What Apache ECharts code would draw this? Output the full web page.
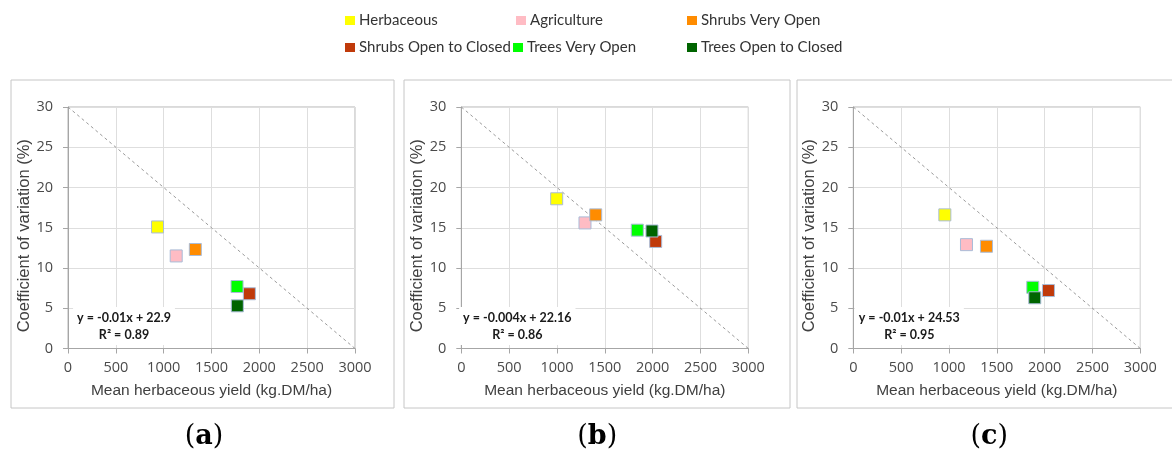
<!DOCTYPE html>
<html>
<head>
<meta charset="utf-8">
<script src="https://cdn.jsdelivr.net/npm/echarts@6/dist/echarts.min.js"></script>
<style>html,body{margin:0;padding:0;background:#fff;}#c{width:1172px;height:453px;}</style>
</head>
<body>
<div id="c"></div>
<script>
// ---- data ----
const categories = ['Herbaceous','Agriculture','Shrubs Very Open','Shrubs Open to Closed','Trees Very Open','Trees Open to Closed'];
const panelLabels = ['a','b','c'];
// yield (x) and CV (y) per panel, in category order
const yieldA = [936, 1131, 1331, 1896, 1767, 1770];
const cvA    = [15.1, 11.5, 12.3, 6.8, 7.7, 5.3];
const yieldB = [997, 1293, 1405, 2032, 1840, 1993];
const cvB    = [18.6, 15.6, 16.6, 13.3, 14.7, 14.6];
const yieldC = [957, 1183, 1392, 2040, 1876, 1897];
const cvC    = [16.6, 12.9, 12.7, 7.2, 7.6, 6.3];
const refLineX = [0, 3000];
const refLineY = [30, 0];
const equations = ['y = -0.01x + 22.9', 'y = -0.004x + 22.16', 'y = -0.01x + 24.53'];
const r2Labels = ['R² = 0.89', 'R² = 0.86', 'R² = 0.95'];
const xTicks = [0, 500, 1000, 1500, 2000, 2500, 3000];
const yTicks = [0, 5, 10, 15, 20, 25, 30];

// ---- style ----
const colors = ['#ffff00', '#ffbcc4', '#ff8c00', '#c03a0a', '#00ff00', '#006400'];
const gridLefts = [68, 461.3, 853.3];
const gridWidth = 287;
const gridTop = 107;
const gridHeight = 241.5;
const boxes = [[11, 394], [404, 790], [797, 1185]];

const panels = [[yieldA, cvA], [yieldB, cvB], [yieldC, cvC]];

const grids = [], xAxes = [], yAxes = [], series = [], graphics = [];
panels.forEach((p, i) => {
  grids.push({left: gridLefts[i], top: gridTop, width: gridWidth, height: gridHeight,
    show: true, borderColor: '#b5b5b5', borderWidth: 1, backgroundColor: 'transparent'});
  xAxes.push({type: 'value', gridIndex: i, min: xTicks[0], max: xTicks[xTicks.length-1], interval: 500,
    name: 'Mean herbaceous yield (kg.DM/ha)', nameLocation: 'middle', nameGap: 34,
    nameTextStyle: {fontFamily: 'Liberation Sans', fontSize: 15.5, color: '#404040'},
    axisLine: {show: true, lineStyle: {color: '#a6a6a6'}},
    axisTick: {show: true, inside: false, length: 5, lineStyle: {color: '#a6a6a6'}},
    axisLabel: {fontFamily: 'Open Sans', fontSize: 14.5, color: '#4a4a4a', margin: 12,
      formatter: v => String(v)},
    splitLine: {show: true, lineStyle: {color: '#dedede'}}});
  yAxes.push({type: 'value', gridIndex: i, min: yTicks[0], max: yTicks[yTicks.length-1], interval: 5,
    name: 'Coefficient of variation (%)', nameLocation: 'middle', nameGap: 35,
    nameTextStyle: {fontFamily: 'Liberation Sans', fontSize: 16.5, color: '#404040', padding: [0, 16, 0, 0]},
    axisLine: {show: true, lineStyle: {color: '#a6a6a6'}},
    axisTick: {show: true, inside: false, length: 5, lineStyle: {color: '#a6a6a6'}},
    axisLabel: {fontFamily: 'Open Sans', fontSize: 14.5, color: '#4a4a4a', margin: 15},
    splitLine: {show: true, lineStyle: {color: '#dedede'}}});
  series.push({type: 'line', xAxisIndex: i, yAxisIndex: i, data: refLineX.map((x, k) => [x, refLineY[k]]),
    symbol: 'none', silent: true, lineStyle: {color: '#9a9a9a', width: 1, type: [3, 3]}, z: 1});
  categories.forEach((name, k) => {
    series.push({type: 'scatter', name: name, xAxisIndex: i, yAxisIndex: i,
      data: [[p[0][k], p[1][k]]], symbol: 'rect', symbolSize: 12,
      itemStyle: {color: colors[k], borderColor: '#a9bcd8', borderWidth: 1, opacity: 1}, z: 3 + k});
  });
  graphics.push({type: 'rect', shape: {x: boxes[i][0], y: 80, width: boxes[i][1] - boxes[i][0], height: 328},
    style: {fill: 'none', stroke: '#c6c6c6', lineWidth: 1}, z: -1, silent: true});
  graphics.push({type: 'text', x: gridLefts[i] + 56, y: 326, z: 10,
    style: {text: equations[i] + '\n' + r2Labels[i], textAlign: 'center', textVerticalAlign: 'middle',
      fontFamily: 'Lato', fontWeight: 'bold', fontSize: 12.5, lineHeight: 17, fill: '#1a1a1a',
      backgroundColor: '#fff', padding: [2, 4, 2, 4]}});
  graphics.push({type: 'text', x: gridLefts[i] + 136, y: 437, z: 10,
    style: {text: '{p|(}{b|' + panelLabels[i] + '}{p|)}', textAlign: 'center', textVerticalAlign: 'middle',
      rich: {p: {fontFamily: 'DejaVu Serif', fontSize: 27, fill: '#000'},
             b: {fontFamily: 'DejaVu Serif', fontSize: 27, fontWeight: 'bold', fill: '#000'}}}});
});

const legendPos = [[345, 13], [516, 13], [687, 13], [345, 40], [513, 40], [687, 40]];
const legends = categories.map((name, k) => ({
  data: [name], left: legendPos[k][0], top: legendPos[k][1], orient: 'horizontal',
  icon: 'rect', itemWidth: 10, itemHeight: 9, itemGap: 0, padding: 0,
  itemStyle: {borderWidth: 0},
  textStyle: {fontFamily: 'Lato', fontSize: 15, color: '#333', padding: [0, 0, 0, -1]}
}));

const chart = echarts.init(document.getElementById('c'), null, {renderer: 'canvas'});
chart.setOption({
  animation: false,
  backgroundColor: '#fff',
  legend: legends,
  grid: grids, xAxis: xAxes, yAxis: yAxes, series: series,
  graphic: graphics
});
</script>
</body>
</html>
